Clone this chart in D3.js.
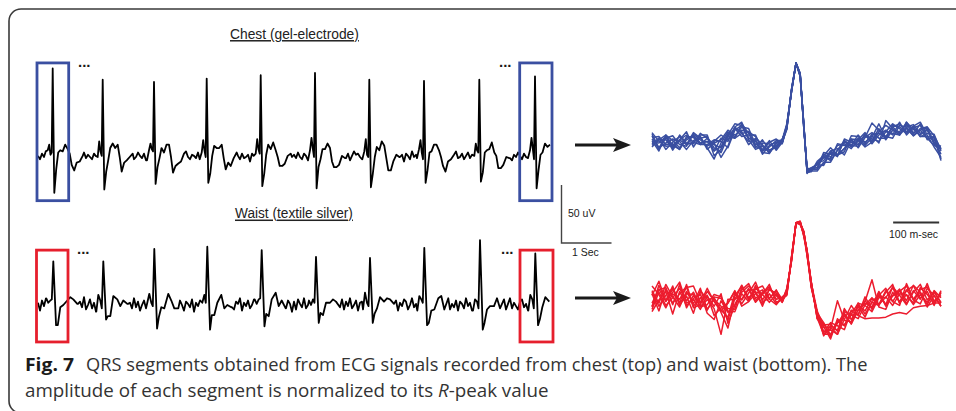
<!DOCTYPE html>
<html>
<head>
<meta charset="utf-8">
<script src="https://cdn.jsdelivr.net/npm/d3@7/dist/d3.min.js"></script>
<style>
  body { margin: 0; background: #fff; }
  svg { display: block; }
</style>
</head>
<body>
<div id="chart"></div>
<script>
// ---------------- data ----------------
// left traces: R-peak times (s), R amplitude and S trough (uV, from baseline)
const chestBeatT = [0.294, 1.294, 2.32, 3.374, 4.454, 5.54, 6.626, 7.72, 8.826, 9.94];
const chestR     = [79, 69, 67, 70, 73, 75, 69, 68, 69, 72];
const chestS     = [-32, -29, -24, -23, -26, -28, -27, -23, -22, -28];

const waistBeatT = [0.306, 1.306, 2.326, 3.386, 4.474, 5.56, 6.64, 7.726, 8.84, 9.946];
const waistR     = [39, 39, 50, 52, 49, 43, 42, 51, 58, 46];
const waistS     = [-18, -13, -21, -22, -19, -16, -16, -18, -22, -18];

// beat morphology: [offset from R (s), uV] ; "R"/"S" = beat's own value
const chestShape = [[-0.14, 0], [-0.1, 4], [-0.07, 12], [-0.045, 3], [-0.02, 1], [0, "R"], [0.032, "S"],
  [0.07, -12], [0.11, 0], [0.15, 6], [0.2, 8], [0.25, 10], [0.3, 8], [0.34, 0], [0.38, -12],
  [0.43, -10], [0.48, -5], [0.54, -1], [0.6, 0]];
const waistShape = [[-0.14, 0], [-0.1, 5], [-0.06, 3], [-0.03, 0], [0, "R"], [0.055, "S"],
  [0.09, -12], [0.14, -5], [0.2, 2], [0.28, 5], [0.34, 3], [0.4, -1], [0.48, 0]];

// baseline wobble (uV), one value every 0.04 s
const noiseStep = 0.04;
const chestNoise = [
  1,-2,3,0,5,2,-1,3,-2,1,4,0,-3,2,1,-1,
  3,5,-2,0,2,-3,1,4,-1,2,0,-2,3,1,-4,2,
  0,3,-1,-3,2,4,1,-2,3,0,-1,5,2,-3,1,3,
  -2,0,4,1,-1,3,-3,2,0,4,-2,1,3,-1,2,-4,
  1,3,0,-2,4,2,-1,1,-3,3,5,0,-2,2,1,-1,
  4,-2,0,3,-1,2,-3,1,4,0,2,-2,3,-1,1,5,
  -3,2,0,4,1,-2,3,-1,0,2,-4,3,1,-1,4,2,
  0,-3,2,5,-1,1,3,-2,0,4,2,-1,-3,2,3,0,
  2,-1,4,0,-2,3,1,-3,2,5,-1,0,3,-2,1,4,
  -1,2,0,-4,3,1,4,-2,2,0,-1,3,-3,1,5,2,
  3,0,-2,1,4,-1,2,-3,0,3,1,-2,4,2,-1,0,
  -2,4,1,3,-1,0,2,-4,3,1,-2,5,0,2,-1,3,
  1,-3,2,0,4,-1,3,1,-2,2,0,4,-3,1,3,-1,
  2,5,-1,0,3,-2,1,4,-1,2,-3,0,3,1,-2,4,
  0,2,-1,3,-4,1,2,0,5,-2,1,3,-1,-3,2,0,
  4,1,-2,3,0,-1,2,5,-3,1,0,2,-2,4,1,-1,
  3];
const waistNoise = [
  2,-5,4,-1,6,-3,1,5,-4,2,-6,3,0,-2,5,-1,
  4,-3,6,-5,1,3,-2,7,-4,0,5,-3,2,-6,4,1,
  -3,5,-1,2,-5,4,6,-2,0,-4,3,5,-6,1,2,-3,
  6,-2,3,-5,0,4,-3,2,5,-1,-4,6,1,-3,3,-5,
  2,5,-4,1,-2,6,-3,4,0,-5,3,1,-2,5,-6,2,
  -1,4,-3,6,2,-5,1,3,-4,5,0,-2,4,-6,3,1,
  5,-2,-4,3,1,6,-5,2,-1,4,-3,0,5,-4,2,6,
  -3,1,4,-5,2,3,-2,6,-4,0,5,-1,-3,4,1,-6,
  3,-4,5,1,-2,6,-3,0,4,-5,2,3,-1,5,-4,2,
  0,6,-3,2,-5,4,1,-2,5,-4,3,-1,6,-3,0,4,
  -5,2,3,-4,6,-1,1,-6,4,2,-3,5,0,-2,3,-4,
  6,-3,1,4,-5,2,-1,5,3,-4,0,6,-2,1,-5,3,
  2,-1,5,-4,3,0,-6,4,1,-2,5,-3,2,6,-4,1,
  -2,4,-5,3,1,-3,6,-1,2,-5,4,0,-3,5,2,-4,
  5,1,-3,4,-6,2,3,-2,0,5,-4,1,6,-3,2,-1,
  -4,3,5,-2,1,-5,4,2,-3,6,0,-1,3,-4,5,2,
  -2];

// right: overlaid QRS segments, normalised to R peak
const qrsMs = [-313,-298,-283,-268,-253,-238,-223,-208,-193,-178,-163,-148,-133,-118,-103,-88,-73,-58,-43,
  -30,-20,-10,0,9,17,24,33,46,
  60,75,90,105,120,135,150,165,180,195,210,225,240,255,270,285,300,315];
const chestQrsMean = [0.03,0,0.02,-0.01,0,0.02,0.03,0.04,0,-0.04,-0.02,0.06,0.14,0.16,0.08,0,-0.06,-0.05,-0.03,
  0.02,0.2,0.65,1,0.85,0.2,-0.35,-0.34,-0.29,
  -0.2,-0.16,-0.11,-0.05,-0.01,0.02,0.03,0.05,0.08,0.1,0.14,0.16,0.16,0.15,0.14,0.1,0.03,-0.12];
const waistQrsMean = [0,0.04,0.02,0,0.05,0.02,-0.02,0,-0.03,-0.05,-0.04,-0.08,-0.03,0.04,0.06,0.05,0.04,0.05,0.03,
  0,0.1,0.52,0.99,0.99,0.85,0.6,0.2,-0.2,
  -0.38,-0.41,-0.36,-0.29,-0.22,-0.16,-0.1,-0.06,-0.03,0,0.02,0.02,0.03,0.04,0.04,0.03,0.02,0];
// per-segment deviation from the mean, in hundredths
const chestQrsDev = [
  [6,-8,4,10,-2,-6,8,0,-4,6,12,-2,4,-8,2,10,-4,0,6, 1,2,-2,0,1,-3,2,1,-4, 6,-2,8,4,-6,2,10,-4,6,12,2,-6,4,8,-2,6,-4,8],
  [-4,6,-10,2,8,-4,-2,6,10,-12,-6,4,10,6,-4,-8,2,-6,0, -1,-3,1,0,-1,2,-2,3,2, -8,4,-6,10,2,-4,8,0,-6,4,10,2,-4,6,12,0,-8,-6],
  [10,2,-6,-2,4,12,-8,4,-6,-16,2,8,-6,4,10,-2,6,4,-4, 2,4,-1,0,2,1,-1,-2,6, 4,10,-4,-2,6,-8,4,20,8,-2,6,-4,2,-6,4,10,6,4],
  [0,-10,8,4,-6,2,6,-4,2,4,-16,-10,6,-4,-6,4,-8,2,4, -2,-1,2,0,-2,2,1,-1,-6, -4,-8,2,6,-2,4,-6,2,16,-4,8,4,-2,6,-6,-2,4,-10],
  [-8,4,2,-6,10,-2,-4,8,6,2,-4,6,-8,8,4,-6,10,-4,-2, 3,-2,0,0,1,-2,3,2,-2, 8,2,-4,-6,10,6,-2,4,-8,18,4,-6,10,2,-4,8,-2,6],
  [4,8,-4,0,-8,6,4,-6,-2,8,4,-12,2,6,-2,2,-4,6,8, -3,1,-1,0,-1,3,-2,-1,4, -2,6,4,-10,4,-4,8,-6,2,6,-4,10,-6,4,8,-4,2,-2],
  [-2,0,6,-8,4,-4,10,2,8,-6,-2,2,4,-2,-10,6,4,-8,2, 2,-1,1,0,2,-1,0,3,2, 2,-4,10,2,-2,8,-4,6,4,-2,-8,6,4,-6,2,10,-4,4],
  [8,-6,-2,6,2,-10,0,4,-8,4,6,10,-4,0,6,-4,-2,8,-6, -1,3,-1,0,-2,1,-3,2,-2, -6,6,-4,8,-4,0,6,-2,10,-6,2,-2,8,-4,10,-6,6,-8],
  [-6,4,8,-2,-8,4,6,-4,2,-6,8,-4,6,10,-2,4,-6,-8,4, 2,-2,1,0,1,2,-2,-1,3, 4,-6,2,8,-2,-6,4,8,-2,-4,6,8,-2,4,-6,2,8,2],
  [2,-6,6,-4,4,8,-2,-6,6,-2,-10,2,-8,-4,6,8,2,-4,-2, -2,2,-1,0,-1,-2,3,-1,2, 2,4,-4,-2,6,2,-8,-4,6,4,-2,-6,10,-2,2,-4,-6,4]
];
const waistQrsDev = [
  [12,-8,18,4,-14,9,-3,15,-9,6,-4,-18,8,14,-6,10,3,-8,4, -2,4,-3,0,1,-2,3,-4,3, -4,12,3,-9,8,-3,14,-6,9,15,-4,10,-8,6,16,-3,8,-4],
  [-9,15,-4,10,18,-6,3,-12,8,-3,12,-22,-4,9,15,-3,6,12,-2, 3,-2,2,0,-1,3,-2,4,-4, 8,-6,9,-3,4,12,-8,3,-4,10,18,-6,9,14,-2,8,-9,12],
  [18,3,-12,8,-4,14,20,-3,9,-15,-6,4,14,-9,3,18,-4,8,6, -1,5,-2,0,2,-4,2,3,-2, 6,10,-4,18,-3,8,-12,4,9,-6,3,12,-4,15,6,-9,10,3],
  [-15,-4,9,-18,6,-9,4,8,-14,-20,3,-8,-3,6,12,4,-9,3,-8, 2,-3,1,0,-2,2,-3,-2,4, -3,4,35,3,-6,9,-4,8,-3,4,-9,6,3,-8,12,4,-6,9],
  [6,20,-3,14,-8,3,-15,12,4,-6,-40,9,3,15,-4,9,14,-3,10, -3,2,-1,0,1,-1,4,-2,3, 9,-4,6,12,-9,3,8,32,-6,-12,8,-4,10,-3,9,14,-3,6],
  [-4,9,14,-6,15,-12,8,-4,18,3,-9,-14,12,-4,8,-8,3,15,-6, 1,-4,2,0,-2,1,2,3,-3, -6,3,-8,4,15,-4,-14,-17,-20,-22,-20,-18,-21,-14,-12,-10,-6,-4],
  [10,-12,4,15,-9,18,-6,3,-10,9,6,-3,-9,12,-3,6,-12,9,3, -2,3,-2,0,2,-3,-3,2,6, 4,-9,12,-4,9,3,6,-3,14,-8,4,9,15,-4,-9,12,4,-8],
  [-12,6,-9,3,10,-3,12,-8,3,8,-10,4,15,-12,-8,3,9,-4,-9, 4,-1,3,0,-1,2,1,-3,3, -8,8,-3,9,-8,12,3,-9,6,3,14,-6,4,-10,3,-6,9,-3],
  [8,-18,12,-4,3,15,-8,-6,14,4,-12,-28,6,-3,9,-6,4,10,3, -3,2,-2,0,1,2,-1,3,-4, 3,6,-8,14,4,-3,9,-4,12,-6,15,4,-9,8,-3,18,-6,10],
  [-8,10,-3,18,-12,6,9,-9,-3,12,8,-6,-12,4,-8,14,-6,-3,9, 1,-2,1,0,-2,-1,4,-1,3, -6,-3,9,-4,3,-8,4,9,-3,12,-4,-9,18,-3,6,-12,4,-8]
];

const chestTitle = "Chest (gel-electrode)";
const waistTitle = "Waist (textile silver)";
const captionLine1 = "QRS segments obtained from ECG signals recorded from chest (top) and waist (bottom). The";

// ---------------- layout ----------------
const width = 956, height = 411;
const blue = "#3a4fa1", red = "#e61f2d", ink = "#1a1a1a";

const svg = d3.select("#chart").append("svg")
  .attr("width", width)
  .attr("height", height);

// figure frame (rounded, runs off the right and bottom edges)
svg.append("rect")
  .attr("x", 9).attr("y", 9)
  .attr("width", 1000).attr("height", 404)
  .attr("rx", 12)
  .attr("fill", "none")
  .attr("stroke", "#3a3a3a")
  .attr("stroke-width", 1.6);

const tMax = 10.24;
const xTrace = d3.scaleLinear().domain([0, tMax]).range([38, 550]);
const yChest = d3.scaleLinear().domain([0, 50]).range([157, 101]);
const yWaist = d3.scaleLinear().domain([0, 50]).range([305, 249]);

function buildTrace(beatT, rVals, sVals, shape, noise) {
  const lo = shape[0][0], hi = shape[shape.length - 1][0];
  const pts = [];
  noise.forEach((n, i) => {
    const t = i * noiseStep;
    if (t > tMax) return;
    if (!beatT.some(b => t >= b + lo && t <= b + hi)) pts.push([t, n]);
  });
  beatT.forEach((b, j) => {
    shape.forEach(([dt, v]) => {
      const t = b + dt;
      if (t < 0 || t > tMax) return;
      let val;
      if (v === "R") val = rVals[j];
      else if (v === "S") val = sVals[j];
      else val = v + noise[Math.min(noise.length - 1, Math.round(t / noiseStep))];
      pts.push([t, val]);
    });
  });
  return pts.sort((a, b) => a[0] - b[0]);
}

function drawTrace(pts, y) {
  const line = d3.line().x(d => xTrace(d[0])).y(d => y(d[1]));
  svg.append("path")
    .attr("d", line(pts))
    .attr("fill", "none")
    .attr("stroke", "#000")
    .attr("stroke-width", 1.8)
    .attr("stroke-linejoin", "round");
}

drawTrace(buildTrace(chestBeatT, chestR, chestS, chestShape, chestNoise), yChest);
drawTrace(buildTrace(waistBeatT, waistR, waistS, waistShape, waistNoise), yWaist);

// boxes around first / last beat
function box(t0, t1, y0, y1, color) {
  svg.append("rect")
    .attr("x", xTrace(t0)).attr("y", y0)
    .attr("width", xTrace(t1) - xTrace(t0)).attr("height", y1 - y0)
    .attr("fill", "none")
    .attr("stroke", color)
    .attr("stroke-width", 2.8);
}
box(-0.02, 0.614, yChest(84), yChest(-39), blue);
box(9.634, 10.28, yChest(84), yChest(-39), blue);
box(-0.03, 0.6, yWaist(49), yWaist(-33), red);
box(9.64, 10.3, yWaist(49), yWaist(-33), red);

// "..." markers
[[78, 67], [499, 67], [77, 254], [501, 254]].forEach(([x, y]) => {
  svg.append("text")
    .attr("x", x).attr("y", y)
    .attr("font-family", "Liberation Sans, Arial, sans-serif")
    .attr("font-size", 15)
    .attr("font-weight", "bold")
    .attr("fill", ink)
    .text("...");
});

function fitText(sel, w) {
  const natural = sel.node().getComputedTextLength();
  const x = +sel.attr("x");
  sel.attr("transform", `translate(${x},0) scale(${w / natural},1) translate(${-x},0)`);
}

// panel titles
[[chestTitle, 230, 39, 129], [waistTitle, 235, 218.5, 118]].forEach(([txt, x, y, w]) => {
  const t = svg.append("text")
    .attr("x", x).attr("y", y)
    .attr("font-family", "Liberation Sans, Arial, sans-serif")
    .attr("font-size", 15)
    .attr("fill", "#222")
    .attr("text-decoration", "underline")
    .text(txt);
  fitText(t, w);
});

// amplitude / time scale bar
svg.append("path")
  .attr("d", `M${xTrace(10.47)},185 V${243} H${xTrace(10.47) + xTrace(1) - xTrace(0)}`)
  .attr("fill", "none")
  .attr("stroke", "#444")
  .attr("stroke-width", 1.4);
svg.append("text")
  .attr("x", 568).attr("y", 217)
  .attr("font-family", "Liberation Sans, Arial, sans-serif")
  .attr("font-size", 10.5).attr("fill", ink)
  .text("50 uV");
svg.append("text")
  .attr("x", 572).attr("y", 256)
  .attr("font-family", "Liberation Sans, Arial, sans-serif")
  .attr("font-size", 10.5).attr("fill", ink)
  .text("1 Sec");

// arrows
[145, 298].forEach(y => {
  svg.append("line")
    .attr("x1", 575).attr("x2", 620)
    .attr("y1", y).attr("y2", y)
    .attr("stroke", "#1a1a1a")
    .attr("stroke-width", 3);
  svg.append("path")
    .attr("d", `M631,${y} L613,${y - 7} L617,${y} L613,${y + 7} Z`)
    .attr("fill", "#1a1a1a");
});

// overlaid QRS segments
const xQrs = d3.scaleLinear().domain([-313, 315]).range([652, 941]);
const yQrsChest = d3.scaleLinear().domain([0, 1]).range([143, 63]);
const yQrsWaist = d3.scaleLinear().domain([0, 1]).range([300, 222]);

function drawOverlay(mean, devs, y, color) {
  const line = d3.line()
    .x((d, i) => xQrs(qrsMs[i]))
    .y(d => y(d));
  devs.forEach(dev => {
    const seg = mean.map((m, i) => m + (dev[i] || 0) / 100);
    svg.append("path")
      .attr("d", line(seg))
      .attr("fill", "none")
      .attr("stroke", color)
      .attr("stroke-width", 1.5)
      .attr("stroke-linejoin", "round");
  });
}
drawOverlay(chestQrsMean, chestQrsDev, yQrsChest, blue);
drawOverlay(waistQrsMean, waistQrsDev, yQrsWaist, "#ec1c2e");

// 100 ms scale bar
svg.append("line")
  .attr("x1", xQrs(211)).attr("x2", xQrs(311))
  .attr("y1", 222.5).attr("y2", 222.5)
  .attr("stroke", "#333")
  .attr("stroke-width", 1.8);
svg.append("text")
  .attr("x", 889).attr("y", 238)
  .attr("font-family", "Liberation Sans, Arial, sans-serif")
  .attr("font-size", 10.5).attr("fill", ink)
  .text("100 m-sec");

// caption
const capFont = "Open Sans, Noto Sans, sans-serif";
const fig = svg.append("text")
  .attr("x", 25).attr("y", 371)
  .attr("font-family", capFont)
  .attr("font-size", 18).attr("font-weight", "bold")
  .attr("fill", "#1a1a1a")
  .text("Fig. 7");
fitText(fig, 49);

const cap1 = svg.append("text")
  .attr("x", 86).attr("y", 371)
  .attr("font-family", capFont)
  .attr("font-size", 17.5)
  .attr("fill", "#333")
  .text(captionLine1);
fitText(cap1, 782);

const cap2 = svg.append("text")
  .attr("x", 25).attr("y", 397)
  .attr("font-family", capFont)
  .attr("font-size", 17.5)
  .attr("fill", "#333");
cap2.append("tspan").text("amplitude of each segment is normalized to its ");
cap2.append("tspan").attr("font-style", "italic").text("R");
cap2.append("tspan").text("-peak value");
fitText(cap2, 524);
</script>
</body>
</html>
